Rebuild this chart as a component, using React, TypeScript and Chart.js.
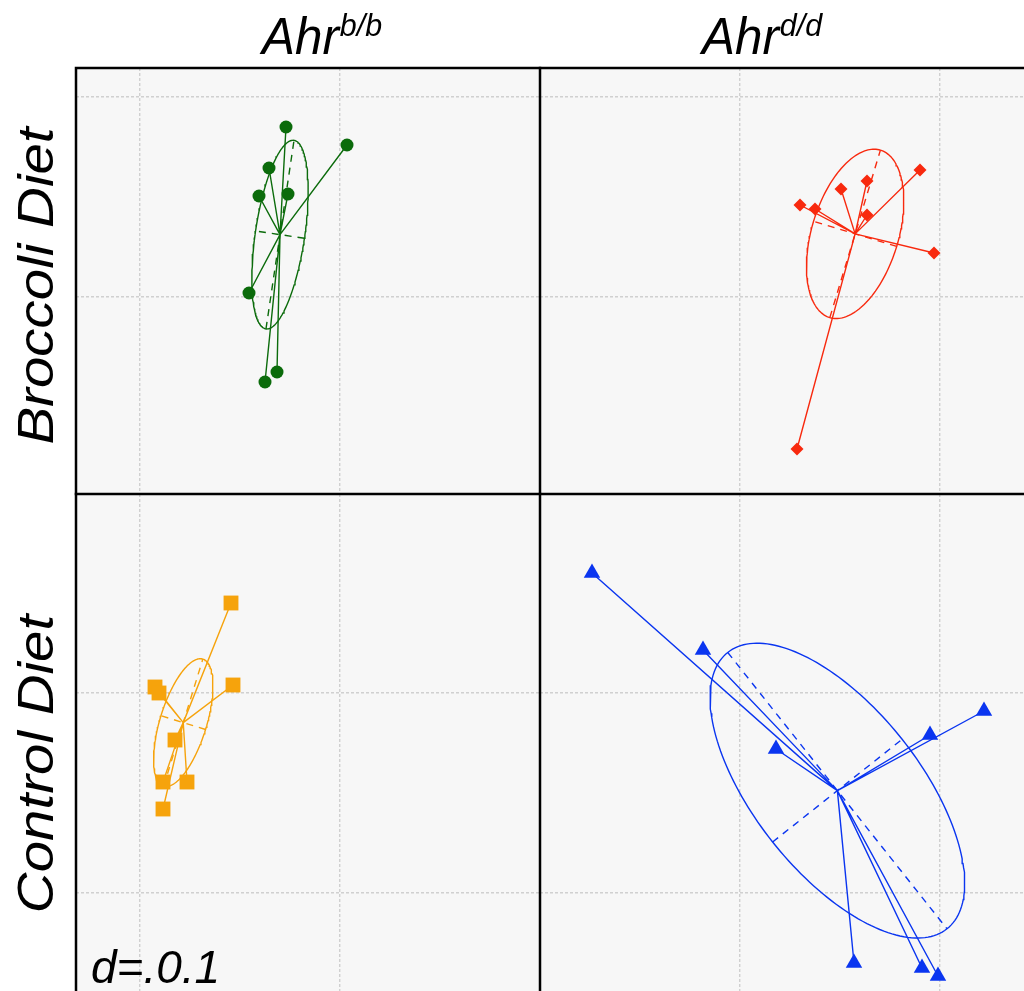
import React, { useEffect, useRef } from "react";
import { Chart, registerables } from "chart.js";
Chart.register(...registerables);

// ---------- data (units: d = 0.1 grid spacing) ----------
const greenX = [0.073, 0.1035, 0.0645, 0.0595, 0.074, 0.0545, 0.0685, 0.0625];
const greenY = [0.085, 0.076, 0.0645, 0.0505, 0.0515, 0.002, -0.0375, -0.0425];
const redX = [0.09, 0.03, 0.0375, 0.0505, 0.0635, 0.0635, 0.097, 0.0285];
const redY = [0.0635, 0.046, 0.044, 0.054, 0.058, 0.041, 0.022, -0.076];
const orangeX = [0.0455, 0.0075, 0.0095, 0.0465, 0.0175, 0.0115, 0.0235, 0.0115];
const orangeY = [0.145, 0.103, 0.1, 0.104, 0.0765, 0.0555, 0.0555, 0.042];
const blueX = [-0.074, -0.0185, 0.018, 0.122, 0.095, 0.057, 0.091, 0.099];
const blueY = [0.16, 0.1215, 0.072, 0.091, 0.079, -0.035, -0.0375, -0.0415];

const columnGenotypes = ["b/b", "d/d"];
const rowLabels = ["Broccoli Diet", "Control Diet"];
const gridValues = [0, 0.1];
const scaleLabel = "d=.0.1";

// ---------- layout ----------
const W = 1024;
const H = 991;
const PX_PER_UNIT = 2000;
const CELLIPSE = 1;
const FONT = '"Liberation Sans", Arial, Helvetica, sans-serif';

type Panel = {
  xs: number[];
  ys: number[];
  color: string;
  pointStyle: string;
  radius: number;
  area: { left: number; top: number; right: number; bottom: number };
  origin: { x: number; y: number };
};

const panels: Panel[] = [
  { xs: greenX, ys: greenY, color: "#0b6b0b", pointStyle: "circle", radius: 6.5,
    area: { left: 76, top: 68, right: 540, bottom: 494 }, origin: { x: 140, y: 297 } },
  { xs: redX, ys: redY, color: "#f8290e", pointStyle: "rectRot", radius: 6.5,
    area: { left: 540, top: 68, right: 1024, bottom: 494 }, origin: { x: 740, y: 297 } },
  { xs: orangeX, ys: orangeY, color: "#f6a30c", pointStyle: "rect", radius: 10.5,
    area: { left: 76, top: 494, right: 540, bottom: 991 }, origin: { x: 140, y: 893 } },
  { xs: blueX, ys: blueY, color: "#0a35f0", pointStyle: "triangle", radius: 9.5,
    area: { left: 540, top: 494, right: 1024, bottom: 991 }, origin: { x: 740, y: 893 } },
];

function classStats(xs: number[], ys: number[]) {
  const n = xs.length;
  const mx = xs.reduce((a, b) => a + b, 0) / n;
  const my = ys.reduce((a, b) => a + b, 0) / n;
  let sxx = 0, syy = 0, sxy = 0;
  for (let i = 0; i < n; i++) {
    const dx = xs[i] - mx, dy = ys[i] - my;
    sxx += dx * dx; syy += dy * dy; sxy += dx * dy;
  }
  sxx /= n; syy /= n; sxy /= n;
  const tr = sxx + syy;
  const det = sxx * syy - sxy * sxy;
  const disc = Math.sqrt(Math.max(0, (tr * tr) / 4 - det));
  const l1 = tr / 2 + disc;
  const l2 = Math.max(0, tr / 2 - disc);
  let v1x: number, v1y: number;
  if (Math.abs(sxy) > 1e-15) { v1x = l1 - syy; v1y = sxy; }
  else if (sxx >= syy) { v1x = 1; v1y = 0; }
  else { v1x = 0; v1y = 1; }
  const norm = Math.hypot(v1x, v1y);
  v1x /= norm; v1y /= norm;
  const v2x = -v1y, v2y = v1x;
  const a = Math.sqrt(l1) * CELLIPSE;
  const b = Math.sqrt(l2) * CELLIPSE;
  return { mx, my, a, b, v1x, v1y, v2x, v2y };
}

function buildChart(canvas: HTMLCanvasElement, p: Panel, idx: number) {
  const s = classStats(p.xs, p.ys);
  const points = p.xs.map((x, i) => ({ x, y: p.ys[i] }));
  const star: { x: number; y: number | null }[] = [];
  points.forEach((pt) => {
    star.push({ x: s.mx, y: s.my });
    star.push(pt);
    star.push({ x: s.mx, y: null });
  });
  const ellipse: { x: number; y: number }[] = [];
  const N = 180;
  for (let k = 0; k <= N; k++) {
    const t = (2 * Math.PI * k) / N;
    const c = Math.cos(t), sn = Math.sin(t);
    ellipse.push({
      x: s.mx + s.a * c * s.v1x + s.b * sn * s.v2x,
      y: s.my + s.a * c * s.v1y + s.b * sn * s.v2y,
    });
  }
  const axes = [
    { x: s.mx - s.a * s.v1x, y: s.my - s.a * s.v1y },
    { x: s.mx + s.a * s.v1x, y: s.my + s.a * s.v1y },
    { x: s.mx, y: null },
    { x: s.mx - s.b * s.v2x, y: s.my - s.b * s.v2y },
    { x: s.mx + s.b * s.v2x, y: s.my + s.b * s.v2y },
  ];

  const xmin = (p.area.left - p.origin.x) / PX_PER_UNIT;
  const xmax = (p.area.right - p.origin.x) / PX_PER_UNIT;
  const ymax = (p.origin.y - p.area.top) / PX_PER_UNIT;
  const ymin = (p.origin.y - p.area.bottom) / PX_PER_UNIT;

  const setTicks = (axis: any) => {
    axis.ticks = gridValues
      .filter((v) => v > axis.min + 1e-9 && v < axis.max - 1e-9)
      .map((v) => ({ value: v }));
  };

  const scaleOpts = (min: number, max: number) => ({
    type: "linear" as const,
    min,
    max,
    afterBuildTicks: setTicks,
    ticks: { display: false },
    grid: { color: "#d0d0d0", lineWidth: 1.4, drawTicks: false },
    border: { display: false, dash: [3, 2] },
    title: { display: false },
  });

  const panelPlugin = {
    id: "panel" + idx,
    beforeDraw(chart: any) {
      const { ctx, chartArea } = chart;
      ctx.save();
      ctx.fillStyle = "#f7f7f7";
      ctx.fillRect(chartArea.left, chartArea.top, chartArea.right - chartArea.left, chartArea.bottom - chartArea.top);
      ctx.restore();
    },
    afterDraw(chart: any) {
      const { ctx, chartArea } = chart;
      ctx.save();
      ctx.strokeStyle = "#000";
      ctx.lineWidth = 2.5;
      ctx.lineCap = "square";
      ctx.beginPath();
      ctx.moveTo(chartArea.left, chartArea.bottom);
      ctx.lineTo(chartArea.left, chartArea.top);
      ctx.lineTo(chartArea.right, chartArea.top);
      ctx.stroke();
      ctx.fillStyle = "#000";
      ctx.textBaseline = "alphabetic";
      ctx.textAlign = "left";
      if (idx === 0) {
        // column headers
        const hx = [262, 702];
        columnGenotypes.forEach((g, i) => {
          ctx.save();
          ctx.translate(hx[i], 54);
          ctx.scale(0.95, 1);
          ctx.font = `italic 52px ${FONT}`;
          ctx.fillText("Ahr", 0, 0);
          const w = ctx.measureText("Ahr").width;
          ctx.font = `italic 32px ${FONT}`;
          ctx.fillText(g, w + 1, -18);
          ctx.restore();
        });
        // row labels
        const ry = [286, 764];
        rowLabels.forEach((lab, i) => {
          ctx.save();
          ctx.translate(53, ry[i]);
          ctx.rotate(-Math.PI / 2);
          ctx.scale(1.13, 1);
          ctx.textAlign = "center";
          ctx.font = `italic 50px ${FONT}`;
          ctx.fillText(lab, 0, 0);
          ctx.restore();
        });
      }
      if (idx === 2) {
        ctx.font = `italic 46px ${FONT}`;
        ctx.fillText(scaleLabel, chartArea.left + 15, 983);
      }
      ctx.restore();
    },
  };

  return new Chart(canvas, {
    type: "scatter",
    data: {
      datasets: [
        {
          data: points,
          showLine: false,
          pointStyle: p.pointStyle as any,
          pointRadius: p.radius,
          pointBackgroundColor: p.color,
          pointBorderColor: p.color,
          pointBorderWidth: 0,
          backgroundColor: p.color,
          borderColor: p.color,
        },
        {
          data: star as any,
          showLine: true,
          spanGaps: false,
          borderColor: p.color,
          borderWidth: 1.4,
          pointRadius: 0,
          tension: 0,
        },
        {
          data: ellipse,
          showLine: true,
          borderColor: p.color,
          borderWidth: 1.4,
          pointRadius: 0,
          tension: 0,
        },
        {
          data: axes as any,
          showLine: true,
          spanGaps: false,
          borderColor: p.color,
          borderWidth: 1.4,
          borderDash: [7, 6],
          pointRadius: 0,
          tension: 0,
        },
      ],
    },
    options: {
      responsive: false,
      animation: false,
      events: [],
      layout: {
        autoPadding: false,
        padding: {
          left: p.area.left,
          top: p.area.top,
          right: W - p.area.right,
          bottom: H - p.area.bottom,
        },
      },
      plugins: {
        legend: { display: false },
        tooltip: { enabled: false },
        title: { display: false },
      },
      scales: {
        x: scaleOpts(xmin, xmax),
        y: scaleOpts(ymin, ymax),
      },
    } as any,
    plugins: [panelPlugin],
  });
}

export default function App() {
  const refs = [
    useRef<HTMLCanvasElement>(null),
    useRef<HTMLCanvasElement>(null),
    useRef<HTMLCanvasElement>(null),
    useRef<HTMLCanvasElement>(null),
  ];

  useEffect(() => {
    const charts = panels.map((p, i) => buildChart(refs[i].current as HTMLCanvasElement, p, i));
    return () => charts.forEach((c) => c.destroy());
  }, []);

  return (
    <div
      style={{
        position: "absolute",
        left: 0,
        top: 0,
        width: W,
        height: H,
        overflow: "hidden",
        background: "#ffffff",
      }}
    >
      {refs.map((r, i) => (
        <canvas
          key={i}
          ref={r}
          width={W}
          height={H}
          style={{ position: "absolute", left: 0, top: 0, width: W, height: H, display: "block" }}
        />
      ))}
    </div>
  );
}
